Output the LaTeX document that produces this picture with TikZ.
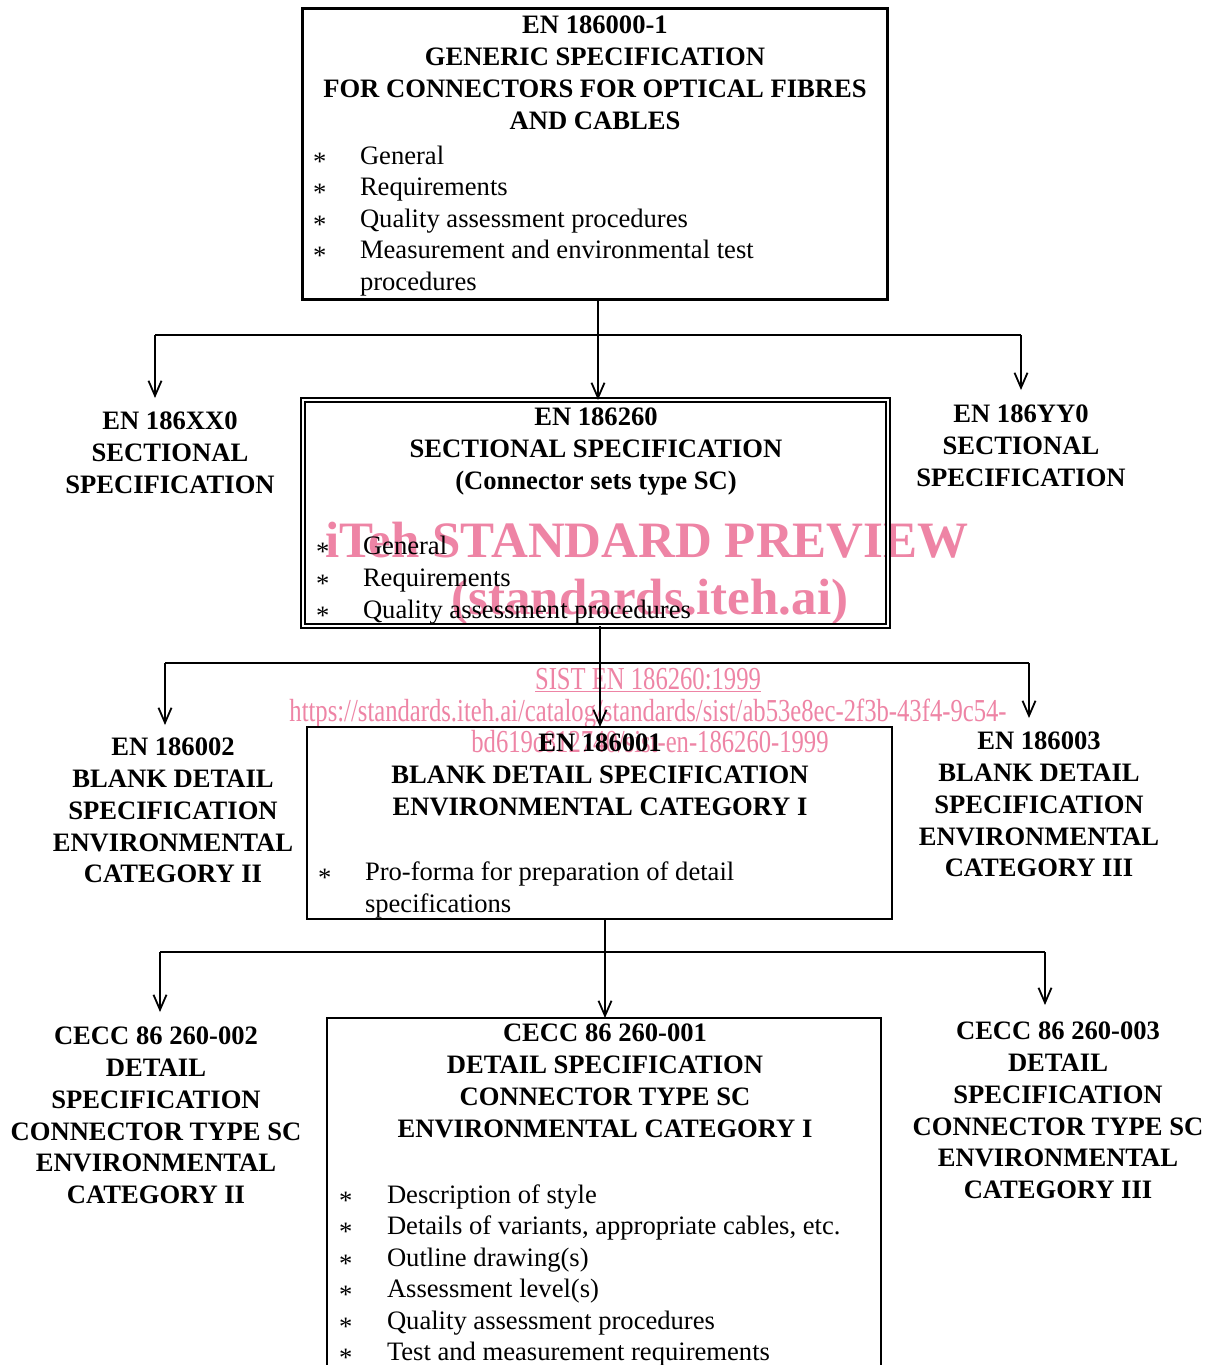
\documentclass[tikz,border=0pt]{standalone}
\usepackage{fontspec}
\setmainfont{Liberation Serif}
\newfontfamily\wmfont[FakeStretch=0.77]{Liberation Serif}
\usetikzlibrary{arrows.meta}
\definecolor{wmpink}{RGB}{238,132,165}
\begin{document}
\begin{tikzpicture}[x=1pt,y=-1pt,
  every node/.style={inner sep=0pt, outer sep=0pt},
  hd/.style={font=\fontsize{26.6}{31.8}\selectfont\bfseries, align=center, anchor=north},
  tx/.style={font=\fontsize{26.6}{32}\selectfont, anchor=base west},
  bul/.style={font=\fontsize{26.6}{32}\selectfont, anchor=base west},
  arr/.style={line width=1.3pt, -{Straight Barb[length=15pt,width=13pt,line width=1.8pt]}},
  bus/.style={line width=2.2pt},
  wm/.style={text=wmpink, anchor=base},
  wmbig/.style={wm, font=\fontsize{51}{51}\selectfont\bfseries},
  wmsmall/.style={wm, font=\wmfont\fontsize{32}{32}\selectfont}
]
\useasboundingbox (0,0) rectangle (1209,1365);
\begin{scope}
\clip (0,0) rectangle (1209,1365);
\fill[white] (0,0) rectangle (1209,1365);

% watermark (behind)
\node[wmbig] (w1) at (647,557) {iTeh STANDARD PREVIEW};
\node[wmbig] (w2) at (650,614) {(standards.iteh.ai)};
\node[wmsmall] (w3) at (648,689) {\underline{SIST EN 186260:1999}};
\node[wmsmall] (w4) at (648,721) {https://standards.iteh.ai/catalog/standards/sist/ab53e8ec-2f3b-43f4-9c54-};
\node[wmsmall] (w5) at (650,752) {bd619c812740/sist-en-186260-1999};

% box 1
\node[draw, line width=3pt, minimum width=585pt, minimum height=291pt, anchor=north west] (b1) at (302,8) {};
\node[hd] (b1t) at (595,16) {EN 186000-1\\GENERIC SPECIFICATION\\FOR CONNECTORS FOR OPTICAL FIBRES\\AND CABLES};
\foreach \i/\y/\t in {1/164/General, 2/195.6/Requirements, 3/227.2/Quality assessment procedures, 4/258.8/Measurement and environmental test}
  {\node[bul] (b1s\i) at (313,\y) {\raisebox{-6pt}{*}};
   \node[tx] (b1x\i) at (360,\y) {\t};}
\node[tx] (b1x5) at (360,290.4) {procedures};

% level 1 side labels
\node[hd] (l1) at (170,412) {EN 186XX0\\SECTIONAL\\SPECIFICATION};
\node[hd] (r1) at (1021,405) {EN 186YY0\\SECTIONAL\\SPECIFICATION};

% box 2
\node[draw, double, line width=1.4pt, double distance=2.6pt, minimum width=585pt, minimum height=226pt, anchor=north west] (b2) at (303,400) {};
\node[hd] (b2t) at (596,408) {EN 186260\\SECTIONAL SPECIFICATION\\(Connector sets type SC)};
\foreach \i/\y/\t in {1/554/General, 2/586/Requirements, 3/618/Quality assessment procedures}
  {\node[bul] (b2s\i) at (316,\y) {\raisebox{-6pt}{*}};
   \node[tx] (b2x\i) at (363,\y) {\t};}

% level 2 side labels
\node[hd] (l2) at (173,738) {EN 186002\\BLANK DETAIL\\SPECIFICATION\\ENVIRONMENTAL\\CATEGORY II};
\node[hd] (r2) at (1039,732) {EN 186003\\BLANK DETAIL\\SPECIFICATION\\ENVIRONMENTAL\\CATEGORY III};

% box 3
\node[draw, line width=1.8pt, minimum width=585pt, minimum height=192pt, anchor=north west] (b3) at (307,727) {};
\node[hd] (b3t) at (600,734) {EN 186001\\BLANK DETAIL SPECIFICATION\\ENVIRONMENTAL CATEGORY I};
\node[bul] (b3s1) at (318,880) {\raisebox{-6pt}{*}};
\node[tx] (b3x1) at (365,880) {Pro-forma for preparation of detail};
\node[tx] (b3x2) at (365,912) {specifications};

% level 3 side labels
\node[hd] (l3) at (156,1027) {CECC 86 260-002\\DETAIL\\SPECIFICATION\\CONNECTOR TYPE SC\\ENVIRONMENTAL\\CATEGORY II};
\node[hd] (r3) at (1058,1022) {CECC 86 260-003\\DETAIL\\SPECIFICATION\\CONNECTOR TYPE SC\\ENVIRONMENTAL\\CATEGORY III};

% box 4 (runs off the bottom)
\node[draw, line width=1.6pt, minimum width=554pt, minimum height=380pt, anchor=north west] (b4) at (327,1018) {};
\node[hd] (b4t) at (605,1024) {CECC 86 260-001\\DETAIL SPECIFICATION\\CONNECTOR TYPE SC\\ENVIRONMENTAL CATEGORY I};
\foreach \i/\y/\t in {1/1203/Description of style, 2/1234.5/{Details of variants, appropriate cables, etc.}, 3/1266/Outline drawing(s), 4/1297.5/Assessment level(s), 5/1329/Quality assessment procedures, 6/1360.5/Test and measurement requirements}
  {\node[bul] (b4s\i) at (339,\y) {\raisebox{-6pt}{*}};
   \node[tx] (b4x\i) at (387,\y) {\t};}

% connectors level 1
\coordinate (j1) at (598,335);
\coordinate (j1l) at (155,335);
\coordinate (j1r) at (1021,335);
\draw[bus] (j1l) -- (j1r);
\draw[arr] (b1.south -| j1) -- (b2.north -| j1);
\draw[arr, shorten >=14pt] (j1l) -- (j1l |- l1.north);
\draw[arr, shorten >=15pt] (j1r) -- (j1r |- r1.north);

% connectors level 2
\coordinate (j2) at (600,663);
\coordinate (j2l) at (165,663);
\coordinate (j2r) at (1029,663);
\draw[bus] (j2l) -- (j2r);
\draw[arr] (b2.south -| j2) -- (b3.north -| j2);
\draw[arr, shorten >=13pt] (j2l) -- (j2l |- l2.north);
\draw[arr, shorten >=14pt] (j2r) -- (j2r |- r2.north);

% connectors level 3
\coordinate (j3) at (605,952);
\coordinate (j3l) at (160,952);
\coordinate (j3r) at (1045,952);
\draw[bus] (j3l) -- (j3r);
\draw[arr] (b3.south -| j3) -- (b4.north -| j3);
\draw[arr, shorten >=15pt] (j3l) -- (j3l |- l3.north);
\draw[arr, shorten >=17pt] (j3r) -- (j3r |- r3.north);
\end{scope}
\end{tikzpicture}
\end{document}
